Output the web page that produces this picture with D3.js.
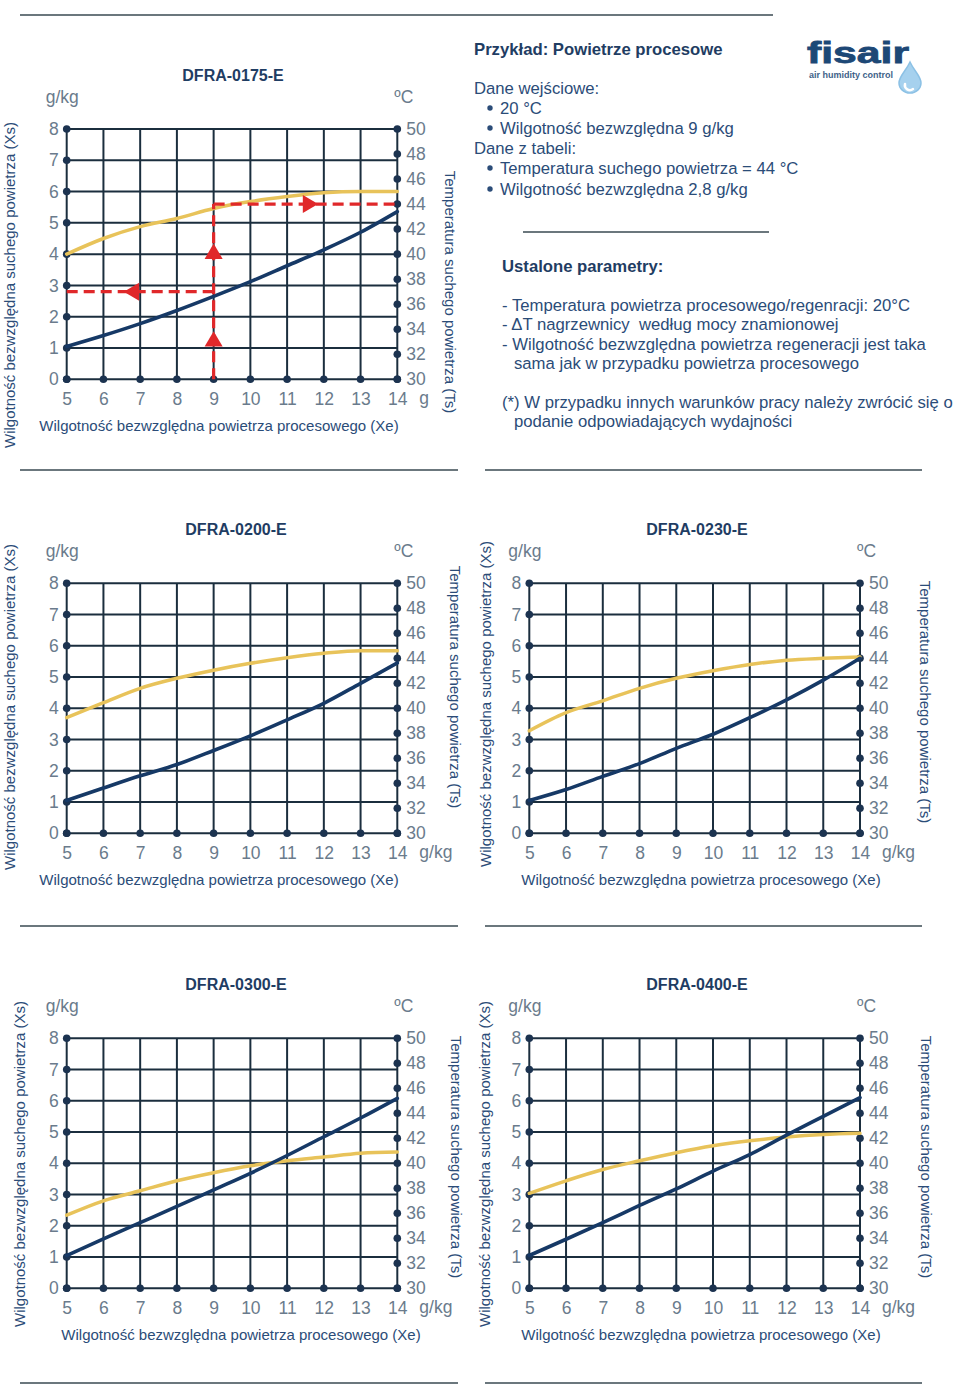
<!DOCTYPE html>
<html><head><meta charset="utf-8">
<script src="https://cdn.jsdelivr.net/npm/d3@7"></script>
<style>
html,body{margin:0;padding:0;background:#fff;}
svg{display:block;font-family:"Liberation Sans",Arial,sans-serif;}
</style></head>
<body>
<script>
// ---------- DATA ----------
const xeTicks = [5, 6, 7, 8, 9, 10, 11, 12, 13, 14];          // g/kg process air
const xsTicks = [0, 1, 2, 3, 4, 5, 6, 7, 8];                   // g/kg dry air
const tsTicks = [30, 32, 34, 36, 38, 40, 42, 44, 46, 48, 50];  // °C
const xe = [5, 6, 7, 8, 9, 10, 11, 12, 13, 14];

const models = ["DFRA-0175-E", "DFRA-0200-E", "DFRA-0230-E", "DFRA-0300-E", "DFRA-0400-E"];

const xs0175 = [1.05, 1.40, 1.78, 2.20, 2.65, 3.12, 3.63, 4.14, 4.70, 5.36];
const ts0175 = [40.0, 41.25, 42.2, 42.85, 43.65, 44.2, 44.6, 44.9, 45.0, 45.0];
const xs0200 = [1.05, 1.45, 1.84, 2.20, 2.65, 3.12, 3.63, 4.16, 4.80, 5.45];
const ts0200 = [39.25, 40.45, 41.6, 42.4, 43.05, 43.6, 44.05, 44.4, 44.6, 44.6];
const xs0230 = [1.05, 1.40, 1.82, 2.23, 2.72, 3.17, 3.70, 4.27, 4.90, 5.60];
const ts0230 = [38.2, 39.65, 40.6, 41.6, 42.4, 43.0, 43.5, 43.85, 44.0, 44.1];
const xs0300 = [1.05, 1.58, 2.10, 2.62, 3.15, 3.68, 4.25, 4.85, 5.45, 6.08];
const ts0300 = [35.85, 37.0, 37.8, 38.6, 39.25, 39.8, 40.2, 40.5, 40.8, 40.9];
const xs0400 = [1.05, 1.57, 2.10, 2.65, 3.18, 3.75, 4.28, 4.90, 5.50, 6.10];
const ts0400 = [37.6, 38.6, 39.5, 40.2, 40.85, 41.4, 41.8, 42.1, 42.3, 42.4];

// worked example (DFRA-0175-E)
const exampleXe = 9;
const exampleTs = 44;
const exampleXs = 2.8;
const exampleArrowsUpXs = [1.25, 4.05];
const exampleArrowRightXe = 11.6;
const exampleArrowLeftXe = 6.8;

// ---------- LAYOUT ----------
const W = 960, H = 1397;
const C_GRID = "#1b2e3e", C_DOT = "#1c3350", C_TICK = "#6a7b8c", C_LAB = "#2b4c78",
      C_BLUE = "#163966", C_YEL = "#e8c35a", C_RED = "#e0282a", C_TITLE = "#1f3d63";

const charts = [
  {name: models[0], xs: xs0175, ts: ts0175, x0: 66.7, x1: 397.3, y0: 379.3, y1: 129,
   titleX: 233, xlabX: 219, leftLab: [15, 285], rightLab: [445, 292], unitRight: "g", example: true},
  {name: models[1], xs: xs0200, ts: ts0200, x0: 66.7, x1: 397.3, y0: 833.3, y1: 583.3,
   titleX: 236, xlabX: 219, leftLab: [15, 707], rightLab: [450, 687], unitRight: "g/kg"},
  {name: models[2], xs: xs0230, ts: ts0230, x0: 529.3, x1: 860, y0: 833.3, y1: 583.3,
   titleX: 697, xlabX: 701, leftLab: [491, 704], rightLab: [920, 702], unitRight: "g/kg"},
  {name: models[3], xs: xs0300, ts: ts0300, x0: 66.7, x1: 397.3, y0: 1288.3, y1: 1038.3,
   titleX: 236, xlabX: 241, leftLab: [25, 1164], rightLab: [451, 1157], unitRight: "g/kg"},
  {name: models[4], xs: xs0400, ts: ts0400, x0: 529.3, x1: 860, y0: 1288.3, y1: 1038.3,
   titleX: 697, xlabX: 701, leftLab: [490, 1164], rightLab: [921, 1157], unitRight: "g/kg"}
];

const svg = d3.select("body").append("svg").attr("width", W).attr("height", H);
svg.append("rect").attr("width", W).attr("height", H).attr("fill", "#fff");

// separator lines
const seps = [[20, 773, 15], [20, 458, 470], [485, 922, 470], [20, 458, 926], [485, 922, 926],
              [20, 458, 1383], [485, 922, 1383], [523, 769, 232]];
svg.selectAll("line.sep").data(seps).join("line").attr("class", "sep")
  .attr("x1", d => d[0]).attr("x2", d => d[1]).attr("y1", d => d[2]).attr("y2", d => d[2])
  .attr("stroke", "#3a4a52").attr("stroke-width", 1.6);

function drawChart(c) {
  const g = svg.append("g");
  const x = d3.scaleLinear().domain([5, 14]).range([c.x0, c.x1]);
  const y = d3.scaleLinear().domain([0, 8]).range([c.y0, c.y1]);
  const t = d3.scaleLinear().domain([30, 50]).range([c.y0, c.y1]);

  // grid
  g.selectAll("line.v").data(xeTicks).join("line")
    .attr("x1", d => x(d)).attr("x2", d => x(d)).attr("y1", c.y0).attr("y2", c.y1)
    .attr("stroke", C_GRID).attr("stroke-width", 2);
  g.selectAll("line.h").data(xsTicks).join("line")
    .attr("y1", d => y(d)).attr("y2", d => y(d)).attr("x1", c.x0).attr("x2", c.x1)
    .attr("stroke", C_GRID).attr("stroke-width", 2);

  // axes (ticks as labels, domain hidden)
  const ax = g.append("g").attr("transform", `translate(0,${c.y0})`)
    .call(d3.axisBottom(x).tickValues(xeTicks).tickSize(0).tickPadding(13).tickFormat(d3.format("d")));
  const ay = g.append("g").attr("transform", `translate(${c.x0},0)`)
    .call(d3.axisLeft(y).tickValues(xsTicks).tickSize(0).tickPadding(8).tickFormat(d3.format("d")));
  const at = g.append("g").attr("transform", `translate(${c.x1},0)`)
    .call(d3.axisRight(t).tickValues(tsTicks).tickSize(0).tickPadding(9).tickFormat(d3.format("d")));
  [ax, ay, at].forEach(a => {
    a.select(".domain").remove();
    a.selectAll("text").attr("fill", C_TICK).attr("font-size", 17.5)
      .attr("font-family", "'Liberation Sans', Arial, sans-serif");
  });

  // dots
  g.selectAll("circle.dx").data(xeTicks).join("circle")
    .attr("cx", d => x(d)).attr("cy", c.y0).attr("r", 3.8).attr("fill", C_DOT);
  g.selectAll("circle.dy").data(xsTicks).join("circle")
    .attr("cx", c.x0).attr("cy", d => y(d)).attr("r", 3.8).attr("fill", C_DOT);
  g.selectAll("circle.dt").data(tsTicks).join("circle")
    .attr("cx", c.x1).attr("cy", d => t(d)).attr("r", 3.8).attr("fill", C_DOT);

  // curves
  const lineXs = d3.line().x((d, i) => x(xe[i])).y(d => y(d)).curve(d3.curveMonotoneX);
  const lineTs = d3.line().x((d, i) => x(xe[i])).y(d => t(d)).curve(d3.curveMonotoneX);
  g.append("path").attr("d", lineTs(c.ts)).attr("fill", "none")
    .attr("stroke", C_YEL).attr("stroke-width", 3.5).attr("stroke-linecap", "round");
  g.append("path").attr("d", lineXs(c.xs)).attr("fill", "none")
    .attr("stroke", C_BLUE).attr("stroke-width", 3.6).attr("stroke-linecap", "round");

  // example annotation
  if (c.example) {
    const ex = x(exampleXe), ety = t(exampleTs), exy = y(exampleXs);
    const dash = {"stroke": C_RED, "stroke-width": 3.2, "stroke-dasharray": "11,6", "fill": "none"};
    const seg = (x1, y1, x2, y2) => {
      const l = g.append("line").attr("x1", x1).attr("y1", y1).attr("x2", x2).attr("y2", y2);
      Object.entries(dash).forEach(([k, v]) => l.attr(k, v));
    };
    seg(ex, y(0), ex, ety);
    seg(ex, ety, c.x1, ety);
    seg(c.x0, exy, ex, exy);
    const tri = (cx, cy, dir) => {
      const s = 9;
      let p;
      if (dir === "up") p = [[cx, cy - s], [cx - s, cy + s * 0.7], [cx + s, cy + s * 0.7]];
      if (dir === "right") p = [[cx + s, cy], [cx - s * 0.7, cy - s], [cx - s * 0.7, cy + s]];
      if (dir === "left") p = [[cx - s, cy], [cx + s * 0.7, cy - s], [cx + s * 0.7, cy + s]];
      g.append("path").attr("d", "M" + p.map(q => q.join(",")).join("L") + "Z").attr("fill", C_RED);
    };
    exampleArrowsUpXs.forEach(v => tri(ex, y(v), "up"));
    tri(x(exampleArrowRightXe), ety, "right");
    tri(x(exampleArrowLeftXe), exy, "left");
  }

  // texts
  g.append("text").attr("x", c.titleX).attr("y", c.y1 - 48).attr("text-anchor", "middle")
    .attr("font-weight", "bold").attr("font-size", 16).attr("fill", C_TITLE).text(c.name);
  g.append("text").attr("x", c.x0 - 21).attr("y", c.y1 - 26)
    .attr("font-size", 17.5).attr("fill", C_TICK).text("g/kg");
  g.append("text").attr("x", c.x1 - 3).attr("y", c.y1 - 26)
    .attr("font-size", 17.5).attr("fill", C_TICK).text("ºC");
  g.append("text").attr("x", c.x1 + 22).attr("y", c.y0 + 25)
    .attr("font-size", 17.5).attr("fill", C_TICK).text(c.unitRight);
  g.append("text").attr("x", c.xlabX).attr("y", c.y0 + 52).attr("text-anchor", "middle")
    .attr("font-size", 15).attr("fill", C_LAB).text("Wilgotność bezwzględna powietrza procesowego (Xe)");
  g.append("text").attr("transform", `translate(${c.leftLab[0]},${c.leftLab[1]}) rotate(-90)`)
    .attr("text-anchor", "middle").attr("font-size", 15).attr("fill", C_LAB)
    .text("Wilgotność bezwzględna suchego powietrza (Xs)");
  g.append("text").attr("transform", `translate(${c.rightLab[0]},${c.rightLab[1]}) rotate(90)`)
    .attr("text-anchor", "middle").attr("font-size", 15).attr("fill", C_LAB)
    .text("Temperatura suchego powietrza (Ts)");
}
charts.forEach(drawChart);

// ---------- text block ----------
const tb = svg.append("g").attr("fill", C_LAB).attr("font-size", 16.7);
tb.append("text").attr("x", 474).attr("y", 55).attr("font-weight", "bold").attr("fill", C_TITLE)
  .text("Przykład: Powietrze procesowe");
const lines = [
  [474, 94, "Dane wejściowe:", false],
  [500, 114, "20 °C", true],
  [500, 134, "Wilgotność bezwzględna 9 g/kg", true],
  [474, 154, "Dane z tabeli:", false],
  [500, 174, "Temperatura suchego powietrza = 44 °C", true],
  [500, 195, "Wilgotność bezwzględna 2,8 g/kg", true]
];
lines.forEach(l => {
  tb.append("text").attr("x", l[0]).attr("y", l[1]).text(l[2]);
  if (l[3]) tb.append("circle").attr("cx", 490).attr("cy", l[1] - 6).attr("r", 2.7).attr("fill", C_LAB);
});
tb.append("text").attr("x", 502).attr("y", 272).attr("font-weight", "bold").attr("fill", C_TITLE)
  .text("Ustalone parametry:");
const lines2 = [
  [502, 311, "- Temperatura powietrza procesowego/regenracji: 20°C"],
  [502, 330, "- ΔT nagrzewnicy  według mocy znamionowej"],
  [502, 350, "- Wilgotność bezwzględna powietrza regeneracji jest taka"],
  [514, 369, "sama jak w przypadku powietrza procesowego"],
  [502, 408, "(*) W przypadku innych warunków pracy należy zwrócić się o"],
  [514, 427, "podanie odpowiadających wydajności"]
];
lines2.forEach(l => tb.append("text").attr("x", l[0]).attr("y", l[1]).attr("xml:space", "preserve").text(l[2]));

// ---------- logo ----------
const lg = svg.append("g");
lg.append("text").attr("x", 807).attr("y", 63).attr("font-size", 30).attr("font-weight", "bold")
  .attr("fill", "#1d4876").attr("textLength", 102).attr("lengthAdjust", "spacingAndGlyphs")
  .attr("stroke", "#1d4876").attr("stroke-width", 0.8).text("fisair");
lg.append("text").attr("x", 809).attr("y", 78).attr("font-size", 8.4).attr("font-weight", "bold")
  .attr("fill", "#3f6289").attr("textLength", 84).attr("lengthAdjust", "spacingAndGlyphs")
  .text("air humidity control");
lg.append("path")
  .attr("d", "M910,62 C906,71 899,76 899,83 A11,10 0 0 0 921,83 C921,76 914,71 910,62 Z")
  .attr("fill", "#a6d1ee").attr("stroke", "#8cc1e5").attr("stroke-width", 1.5);
lg.append("path")
  .attr("d", "M905,84 A5,5 0 0 0 913,89")
  .attr("fill", "none").attr("stroke", "#ffffff").attr("stroke-width", 2.5).attr("stroke-linecap", "round");
</script>
</body></html>
